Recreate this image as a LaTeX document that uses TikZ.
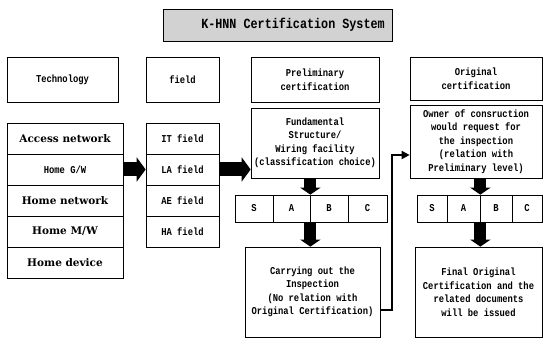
\documentclass[tikz,border=0pt]{standalone}
\usepackage{fontspec}
\setmainfont[FakeStretch=0.84]{Liberation Mono}
\newfontfamily\serifb{DejaVu Serif}
\usetikzlibrary{arrows.meta}
\begin{document}
\begin{tikzpicture}[x=1pt,y=-1pt,
  box/.style={draw, line width=0.7pt, inner sep=1pt, align=center,
    font=\bfseries\fontsize{10.5}{13.5}\selectfont},
  wbox/.style={font=\serifb\bfseries\fontsize{10.5}{12}\selectfont},
  blk/.style={line width=14pt, -{Triangle[length=9pt,width=24pt]}},
  dblk/.style={line width=12pt, -{Triangle[length=7pt,width=20pt]}},
  conn/.style={line width=1.8pt, -{Triangle[length=8pt,width=8pt]}}]
\useasboundingbox (0,0) rectangle (543,339);
% title
\node[draw, line width=0.7pt, fill=gray!35, minimum width=229pt, minimum height=32pt, inner sep=0pt] (titlebox) at (277.5,25) {};
\node[font=\bfseries\fontsize{14}{16}\selectfont, inner sep=0pt] (title) at (293,25) {K-HNN Certification System};
% column headers
\node[box, minimum width=111pt, minimum height=45pt] (tech) at (62.5,79.5) {Technology};
\node[box, minimum width=73pt, minimum height=45pt] (field) at (182.5,79.5) {field};
\node[box, minimum width=128pt, minimum height=45pt] (prelim) at (315,79.5) {Preliminary\\certification};
\node[box, minimum width=132pt, minimum height=43pt] (orig) at (476,78.5) {Original\\certification};
% technology stack
\node[box, wbox, minimum width=116pt, minimum height=31pt] (acc) at (65,138.5) {Access network};
\node[box, minimum width=116pt, minimum height=31pt] (hgw) at (65,169.5) {Home G/W};
\node[box, wbox, minimum width=116pt, minimum height=31pt] (hnet) at (65,200.5) {Home network};
\node[box, wbox, minimum width=116pt, minimum height=31pt] (hmw) at (65,231.5) {Home M/W};
\node[box, wbox, minimum width=116pt, minimum height=31pt] (hdev) at (65,262.5) {Home device};
% field stack
\node[box, minimum width=73pt, minimum height=31pt] (it) at (182.5,138.5) {IT field};
\node[box, minimum width=73pt, minimum height=31pt] (la) at (182.5,169.5) {LA field};
\node[box, minimum width=73pt, minimum height=31pt] (ae) at (182.5,200.5) {AE field};
\node[box, minimum width=73pt, minimum height=31pt] (ha) at (182.5,231.5) {HA field};
% preliminary column
\node[box, minimum width=128pt, minimum height=70pt] (fund) at (315,143) {Fundamental\\Structure/\\Wiring facility\\(classification choice)};
\node[box, minimum width=38pt, minimum height=27pt] (sS) at (254,208.5) {S};
\node[box, minimum width=37pt, minimum height=27pt] (sA) at (291.5,208.5) {A};
\node[box, minimum width=38pt, minimum height=27pt] (sB) at (329,208.5) {B};
\node[box, minimum width=39pt, minimum height=27pt] (sC) at (367.5,208.5) {C};
\node[box, minimum width=135pt, minimum height=90pt] (carry) at (312.5,292) {Carrying out the\\Inspection\\(No relation with\\Original Certification)};
% original column
\node[box, minimum width=132pt, minimum height=73pt] (owner) at (476,141.5) {Owner of consruction\\would request for\\the inspection\\(relation with\\Preliminary level)};
\node[box, minimum width=30pt, minimum height=27pt] (tS) at (432,208.5) {S};
\node[box, minimum width=33pt, minimum height=27pt] (tA) at (463.5,208.5) {A};
\node[box, minimum width=32pt, minimum height=27pt] (tB) at (496,208.5) {B};
\node[box, minimum width=30pt, minimum height=27pt] (tC) at (527,208.5) {C};
\node[box, minimum width=127pt, minimum height=90pt] (final) at (478.5,292) {Final Original\\Certification and the\\related documents\\will be issued};
% block arrows
\draw[blk] (hgw.east) -- (la.west);
\draw[blk] (la.east) -- (la.east -| fund.west);
\draw[dblk] (sA.north east |- fund.south) -- (sA.north east);
\draw[dblk] (sA.south east) -- (sA.south east |- carry.north);
\draw[dblk] (tA.north east |- owner.south) -- (tA.north east);
\draw[dblk] (tA.south east) -- (tA.south east |- final.north);
% connector
\coordinate (c1) at (380,310);
\coordinate (c2) at (392,310);
\coordinate (c3) at (392,155);
\draw[conn] (c1) -- (c2) -- (c3) -- (c3 -| owner.west);
\end{tikzpicture}
\end{document}
